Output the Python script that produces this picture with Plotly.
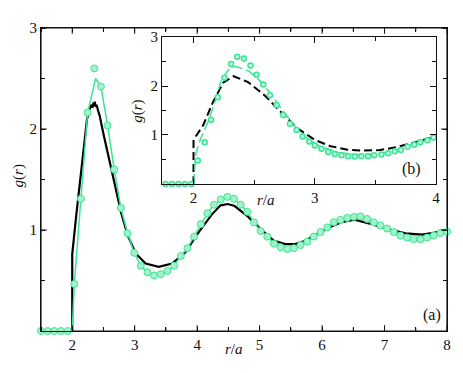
"""
Radial distribution function g(r) — main panel (a) with zoomed inset (b).
"""

import plotly.graph_objects as go

# ── Panel (a): markers (every grid point) ──────────────────────────────────────
R_MAIN = [1.5, 1.607, 1.713, 1.82, 1.926, 2.033, 2.139, 2.246, 2.352, 2.459,
          2.566, 2.672, 2.779, 2.885, 2.992, 3.098, 3.205, 3.311, 3.418, 3.525,
          3.631, 3.738, 3.844, 3.951, 4.057, 4.164, 4.27, 4.377, 4.484, 4.59,
          4.697, 4.803, 4.91, 5.016, 5.123, 5.23, 5.336, 5.443, 5.549, 5.656,
          5.762, 5.869, 5.975, 6.082, 6.189, 6.295, 6.402, 6.508, 6.615, 6.721,
          6.828, 6.934, 7.041, 7.148, 7.254, 7.361, 7.467, 7.574, 7.68, 7.787,
          7.893, 8.0]
G_MAIN = [0, 0, 0, 0, 0, 0.466, 1.31, 2.163, 2.60, 2.42,
          2.035, 1.60, 1.218, 0.967, 0.774, 0.646, 0.581, 0.55, 0.562, 0.595,
          0.646, 0.742, 0.82, 0.935, 1.058, 1.167, 1.25, 1.302, 1.328, 1.309,
          1.25, 1.18, 1.075, 0.99, 0.935, 0.865, 0.83, 0.813, 0.82, 0.851,
          0.884, 0.935, 0.98, 1.025, 1.077, 1.10, 1.12, 1.13, 1.135, 1.11,
          1.075, 1.045, 1.015, 0.98, 0.945, 0.925, 0.91, 0.908, 0.925, 0.945,
          0.97, 0.985]

# Panel (a): green theory line
R_FIT = [1.5, 2.0, 2.033, 2.139, 2.246, 2.375, 2.459, 2.566, 2.672, 2.779,
         2.885, 2.992, 3.098, 3.205, 3.311, 3.418, 3.525, 3.631, 3.738, 3.844,
         3.951, 4.057, 4.164, 4.27, 4.377, 4.484, 4.59, 4.697, 4.803, 4.91,
         5.016, 5.123, 5.23, 5.336, 5.443, 5.549, 5.656, 5.762, 5.869, 5.975,
         6.082, 6.189, 6.295, 6.402, 6.508, 6.615, 6.721, 6.828, 6.934, 7.041,
         7.148, 7.254, 7.361, 7.467, 7.574, 7.68, 7.787, 7.893, 8.0]
G_FIT = [0, 0, 0.466, 1.31, 2.163, 2.50, 2.42, 2.035, 1.60, 1.218,
         0.967, 0.774, 0.646, 0.581, 0.55, 0.562, 0.595, 0.646, 0.742, 0.82,
         0.935, 1.058, 1.167, 1.25, 1.302, 1.328, 1.309, 1.25, 1.18, 1.075,
         0.99, 0.935, 0.865, 0.83, 0.813, 0.82, 0.851, 0.884, 0.935, 0.98,
         1.025, 1.077, 1.10, 1.12, 1.13, 1.135, 1.11, 1.075, 1.045, 1.015,
         0.98, 0.945, 0.925, 0.91, 0.908, 0.925, 0.945, 0.97, 0.985]

# Panel (a): black simulation line
R_SIM = [2.0, 2.0, 2.06, 2.12, 2.18, 2.237, 2.28, 2.31, 2.325, 2.34, 2.35,
         2.36, 2.375, 2.39, 2.41, 2.44, 2.5, 2.58, 2.675, 2.785, 2.89, 3.02,
         3.175, 3.385, 3.6, 3.81, 4.02, 4.23, 4.375, 4.49, 4.6, 4.81, 5.02,
         5.23, 5.41, 5.57, 5.73, 5.89, 6.1, 6.31, 6.52, 6.81, 7.07, 7.335,
         7.6, 7.81, 8.0]
G_SIM = [0, 0.76, 1.12, 1.46, 1.80, 2.10, 2.20, 2.24, 2.21, 2.26, 2.23,
         2.27, 2.22, 2.24, 2.19, 2.13, 1.95, 1.73, 1.456, 1.167, 0.942, 0.765,
         0.668, 0.636, 0.668, 0.78, 0.974, 1.15, 1.244, 1.257, 1.237, 1.135, 1.006,
         0.894, 0.861, 0.861, 0.894, 0.948, 1.022, 1.077, 1.102, 1.054, 1.006, 0.967,
         0.955, 0.974, 1.006]

# ── Panel (b): inset ───────────────────────────────────────────────────────────
R_IN = [1.77, 1.823, 1.876, 1.93, 1.983, 2.035, 2.092, 2.145, 2.2, 2.255,
        2.31, 2.36, 2.415, 2.47, 2.52, 2.575, 2.63, 2.685, 2.74, 2.795,
        2.85, 2.9, 2.955, 3.0, 3.055, 3.11, 3.165, 3.22, 3.275, 3.33,
        3.385, 3.44, 3.49, 3.55, 3.605, 3.66, 3.71, 3.765, 3.82, 3.87,
        3.93, 3.98]
G_IN = [0, 0, 0, 0, 0, 0.48, 0.853, 1.313, 1.77, 2.17,
        2.45, 2.60, 2.56, 2.42, 2.23, 2.03, 1.81, 1.61, 1.41, 1.23,
        1.10, 0.967, 0.867, 0.787, 0.72, 0.653, 0.613, 0.587, 0.567, 0.56,
        0.567, 0.567, 0.587, 0.60, 0.627, 0.667, 0.693, 0.76, 0.80, 0.853,
        0.893, 0.947]

R_IN_SIM = [2.0, 2.0, 2.08, 2.16, 2.245, 2.33, 2.45, 2.59, 2.72, 2.86,
            3.0, 3.13, 3.27, 3.4, 3.54, 3.67, 3.8, 3.965, 4.0]
G_IN_SIM = [0, 0.9, 1.2, 1.67, 2.07, 2.2, 2.08, 1.8, 1.47, 1.13,
            0.9, 0.77, 0.70, 0.68, 0.693, 0.747, 0.833, 0.947, 0.97]

R_IN_FIT = [2.0, 2.02, 2.055, 2.12, 2.18, 2.23, 2.3, 2.355, 2.46, 2.55,
            2.65, 2.75, 2.85, 2.95, 3.05, 3.2, 3.35, 3.5, 3.65, 3.8, 4.0]
G_IN_FIT = [0, 0.63, 0.9, 1.27, 1.7, 2.13, 2.37, 2.40, 2.3, 2.1,
            1.8, 1.45, 1.14, 0.9, 0.76, 0.64, 0.6, 0.61, 0.67, 0.8, 0.95]

MAIN_XTICKS = [2, 3, 4, 5, 6, 7, 8]
MAIN_XMINOR = [2.5, 3.5, 4.5, 5.5, 6.5, 7.5]
MAIN_YTICKS = [1, 2, 3]
MAIN_YMINOR = [0.5, 1.5, 2.5]
IN_XTICKS = [2, 3, 4]
IN_YTICKS = [1, 2, 3]

GREEN      = "#3ce596"
GREEN_FILL = "#a2f3ca"
INK        = "#111111"
FONT       = dict(family="Liberation Serif", size=15, color=INK)
MAJOR_LEN, MINOR_LEN = 6, 3.5

# page body adds an 8px margin, so the figure is 8px smaller and shifted
FIG_W, FIG_H = 455, 365
MARGIN = dict(l=33, r=12, t=12, b=42)
PLOT_W = FIG_W - MARGIN["l"] - MARGIN["r"]
PLOT_H = FIG_H - MARGIN["t"] - MARGIN["b"]


def _axis(rng, tickvals, minor_dtick, domain, **extra) -> dict:
    """Boxed axis, inside ticks, major + minor."""
    ax = dict(
        range=rng, domain=domain,
        tickmode="array", tickvals=tickvals,
        ticks="inside", ticklen=MAJOR_LEN, tickwidth=1, tickcolor=INK,
        minor=dict(dtick=minor_dtick, tick0=0, ticks="inside", ticklen=MINOR_LEN,
                   tickcolor=INK, tickwidth=1),
        showline=True, linecolor=INK, linewidth=1.2, mirror="ticks",
        showgrid=False, zeroline=False,
        tickfont=FONT,
    )
    ax.update(extra)
    return ax


def _label(text, x, y, ref=("paper", "paper"), angle=0, size=15) -> dict:
    return dict(text=text, xref=ref[0], yref=ref[1], x=x, y=y,
                xanchor="center", yanchor="middle", textangle=angle,
                showarrow=False, font=dict(FONT, size=size))


def _main_ticks() -> list:
    """
    Panel (a) tick marks as line shapes (data position, paper-fraction length);
    plotly drops the axis' own ticks for the subplot that holds the inset.
    """
    line = dict(color=INK, width=1)
    out = []
    for vals, n in ((MAIN_XTICKS, MAJOR_LEN), (MAIN_XMINOR, MINOR_LEN)):
        h = n / PLOT_H
        for v in vals:
            for y0, y1 in ((0, h), (1, 1 - h)):
                out.append(dict(type="line", xref="x", yref="paper",
                                x0=v, x1=v, y0=y0, y1=y1, line=line))
    for vals, n in ((MAIN_YTICKS, MAJOR_LEN), (MAIN_YMINOR, MINOR_LEN)):
        w = n / PLOT_W
        for v in vals:
            for x0, x1 in ((0, w), (1, 1 - w)):
                out.append(dict(type="line", xref="paper", yref="y",
                                x0=x0, x1=x1, y0=v, y1=v, line=line))
    return out


fig = go.Figure()

# Panel (a)
fig.add_trace(go.Scatter(
    x=R_SIM, y=G_SIM, mode="lines",
    line=dict(color="black", width=2.2),
))
fig.add_trace(go.Scatter(
    x=R_FIT, y=G_FIT, mode="lines",
    line=dict(color=GREEN, width=1.5),
))
fig.add_trace(go.Scatter(
    x=R_MAIN, y=G_MAIN, mode="markers",
    marker=dict(size=7, color=GREEN_FILL, line=dict(color=GREEN, width=1)),
    cliponaxis=False,
))

# Panel (b)
fig.add_trace(go.Scatter(
    x=R_IN_SIM, y=G_IN_SIM, mode="lines", xaxis="x2", yaxis="y2",
    line=dict(color="black", width=2, dash="8px,4px"),
))
fig.add_trace(go.Scatter(
    x=R_IN_FIT, y=G_IN_FIT, mode="lines", xaxis="x2", yaxis="y2",
    line=dict(color=GREEN, width=1.5, dash="10px,4px"),
))
fig.add_trace(go.Scatter(
    x=R_IN, y=G_IN, mode="markers", xaxis="x2", yaxis="y2",
    marker=dict(size=5, color="#c8f8df", line=dict(color=GREEN, width=1.5)),
    cliponaxis=False,
))

fig.update_layout(
    width=FIG_W, height=FIG_H,
    margin=MARGIN,
    paper_bgcolor="white",
    plot_bgcolor="white",
    showlegend=False,
    font=FONT,
    xaxis=_axis([1.5, 8], MAIN_XTICKS, 0.5, [0, 1], anchor="y", ticks=""),
    yaxis=_axis([0, 3], MAIN_YTICKS, 0.5, [0, 1], anchor="x", ticks=""),
    xaxis2=_axis([1.74, 4], IN_XTICKS, 0.5, [0.298, 0.973], anchor="y2"),
    yaxis2=_axis([0, 3], IN_YTICKS, 0.5, [0.4855, 0.970], anchor="x2"),
    # outer frame + ticks of panel (a)
    shapes=[dict(type="rect", xref="paper", yref="paper", x0=0, y0=0, x1=1, y1=1,
                 line=dict(color=INK, width=1.2), layer="below")] + _main_ticks(),
    annotations=[
        _label("<i>g</i>(<i>r</i>)", -0.056, 0.511, angle=-90),
        _label("<i>r</i>/<i>a</i>", 0.4756, -0.061),
        _label("(a)", 7.76, 0.154, ref=("x", "y"), size=16),
        _label("<i>g</i>(<i>r</i>)", 0.239, 0.7235, angle=-90),
        _label("<i>r</i>/<i>a</i>", 0.5537, 0.431),
        _label("(b)", 3.8, 0.3, ref=("x2", "y2"), size=16),
    ],
)

fig.write_html("out.html")
